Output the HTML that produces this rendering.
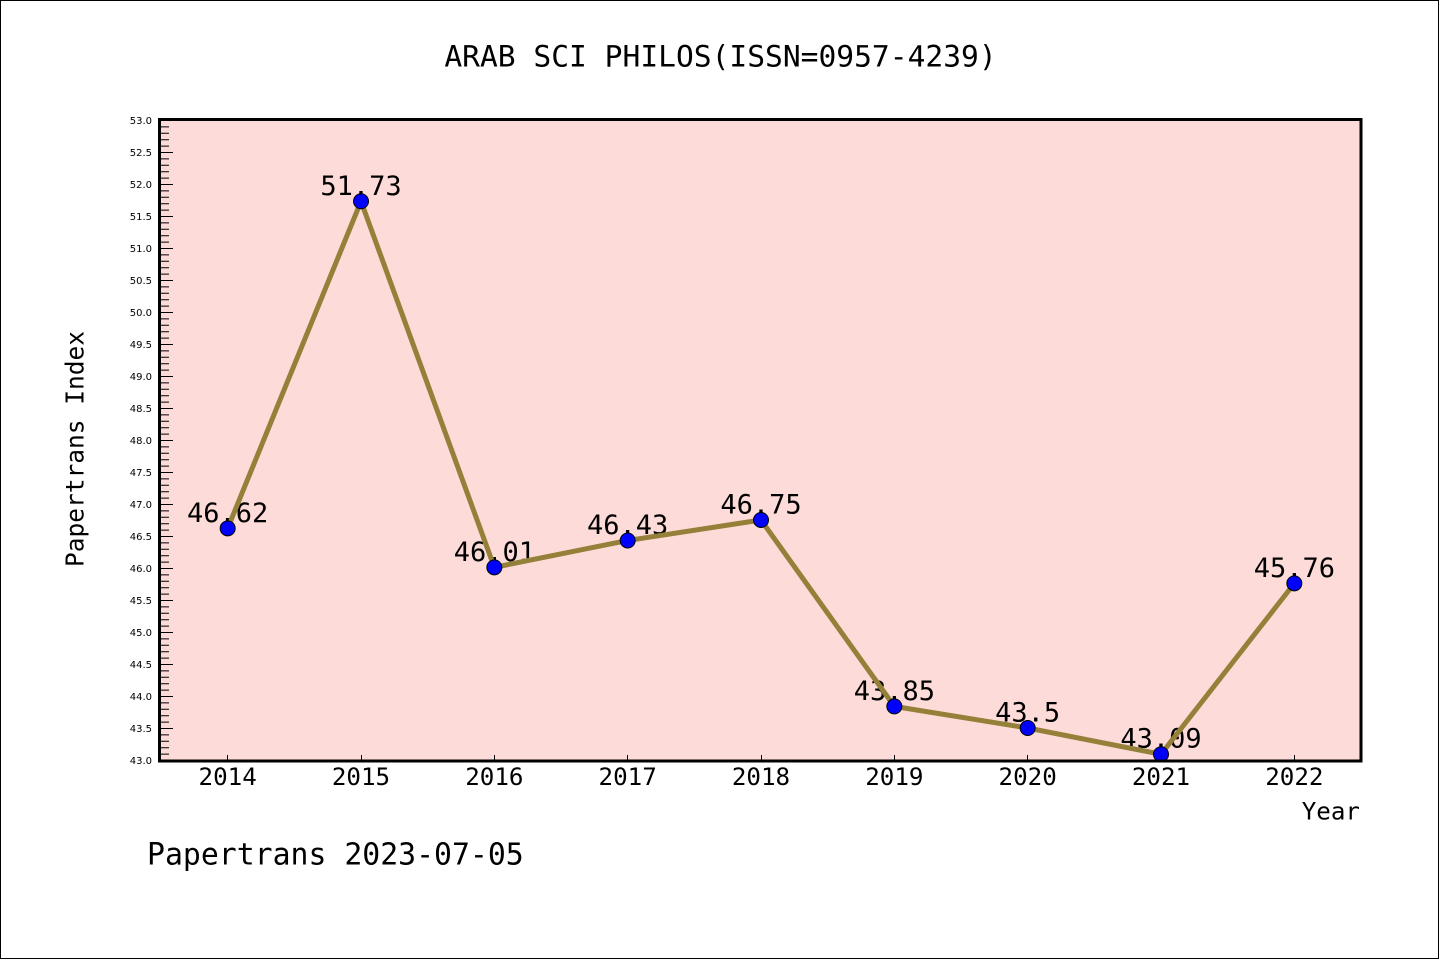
<!DOCTYPE html>
<html><head><meta charset="utf-8"><style>
html,body{margin:0;padding:0;background:#fff}
svg{display:block}
</style></head><body>
<svg width="1440" height="960" viewBox="0 0 1440 960" xmlns="http://www.w3.org/2000/svg">
<rect x="0.5" y="0.5" width="1438" height="958" fill="#fff" stroke="#000" stroke-width="1"/>
<rect x="159.5" y="119.5" width="1201.5" height="641.5" fill="#FDDBD8"/>
<g font-family="'DejaVu Sans Mono','Liberation Mono',monospace" fill="#000">
<text x="720.5" y="66.7" font-size="29.6" text-anchor="middle">ARAB SCI PHILOS(ISSN=0957-4239)</text>
<text x="147" y="864.3" font-size="29.8">Papertrans 2023-07-05</text>
<text x="1360" y="819.5" font-size="24.2" text-anchor="end">Year</text>
<text transform="translate(83.3,449) rotate(-90)" font-size="24.5" text-anchor="middle">Papertrans Index</text>
<g font-size="24.2" text-anchor="middle">
<text x="227.67" y="785">2014</text>
<text x="361" y="785">2015</text>
<text x="494.33" y="785">2016</text>
<text x="627.67" y="785">2017</text>
<text x="761" y="785">2018</text>
<text x="894.33" y="785">2019</text>
<text x="1027.67" y="785">2020</text>
<text x="1161" y="785">2021</text>
<text x="1294.33" y="785">2022</text>
</g>
</g>
<g font-family="'DejaVu Sans','Liberation Sans',sans-serif" font-size="10" text-anchor="end" fill="#000">
<text x="152" y="124">53.0</text>
<text x="152" y="156">52.5</text>
<text x="152" y="188">52.0</text>
<text x="152" y="220">51.5</text>
<text x="152" y="252">51.0</text>
<text x="152" y="284">50.5</text>
<text x="152" y="316">50.0</text>
<text x="152" y="348">49.5</text>
<text x="152" y="380">49.0</text>
<text x="152" y="412">48.5</text>
<text x="152" y="444">48.0</text>
<text x="152" y="476">47.5</text>
<text x="152" y="508">47.0</text>
<text x="152" y="540">46.5</text>
<text x="152" y="572">46.0</text>
<text x="152" y="604">45.5</text>
<text x="152" y="636">45.0</text>
<text x="152" y="668">44.5</text>
<text x="152" y="700">44.0</text>
<text x="152" y="732">43.5</text>
<text x="152" y="764">43.0</text>
</g>
<g font-family="'DejaVu Sans Mono','Liberation Mono',monospace" font-size="27" text-anchor="middle" fill="#000">
<text x="227.67" y="521.8">46.62</text>
<text x="361" y="194.8">51.73</text>
<text x="494.33" y="560.9">46.01</text>
<text x="627.67" y="534">46.43</text>
<text x="761" y="513.5">46.75</text>
<text x="894.33" y="699.9">43.85</text>
<text x="1027.67" y="721.5">43.5</text>
<text x="1161" y="747.7">43.09</text>
<text x="1294.33" y="576.9">45.76</text>
</g>
<polyline points="227.67,528.32 361,201.28 494.33,567.36 627.67,540.48 761,520 894.33,706.4 1027.67,728 1161,754.24 1294.33,583.36" fill="none" stroke="#95803A" stroke-width="5" stroke-linejoin="miter"/>
<g fill="#0000FF" stroke="#000" stroke-width="1">
<circle cx="227.67" cy="528.32" r="7.5"/>
<circle cx="361" cy="201.28" r="7.5"/>
<circle cx="494.33" cy="567.36" r="7.5"/>
<circle cx="627.67" cy="540.48" r="7.5"/>
<circle cx="761" cy="520" r="7.5"/>
<circle cx="894.33" cy="706.4" r="7.5"/>
<circle cx="1027.67" cy="728" r="7.5"/>
<circle cx="1161" cy="754.24" r="7.5"/>
<circle cx="1294.33" cy="583.36" r="7.5"/>
</g>
<g stroke="#000" stroke-width="1">
<path d="M161 120.5H173M161 126.9H169M161 133.3H169M161 139.7H169M161 146.1H169M161 152.5H173M161 158.9H169M161 165.3H169M161 171.7H169M161 178.1H169M161 184.5H173M161 190.9H169M161 197.3H169M161 203.7H169M161 210.1H169M161 216.5H173M161 222.9H169M161 229.3H169M161 235.7H169M161 242.1H169M161 248.5H173M161 254.9H169M161 261.3H169M161 267.7H169M161 274.1H169M161 280.5H173M161 286.9H169M161 293.3H169M161 299.7H169M161 306.1H169M161 312.5H173M161 318.9H169M161 325.3H169M161 331.7H169M161 338.1H169M161 344.5H173M161 350.9H169M161 357.3H169M161 363.7H169M161 370.1H169M161 376.5H173M161 382.9H169M161 389.3H169M161 395.7H169M161 402.1H169M161 408.5H173M161 414.9H169M161 421.3H169M161 427.7H169M161 434.1H169M161 440.5H173M161 446.9H169M161 453.3H169M161 459.7H169M161 466.1H169M161 472.5H173M161 478.9H169M161 485.3H169M161 491.7H169M161 498.1H169M161 504.5H173M161 510.9H169M161 517.3H169M161 523.7H169M161 530.1H169M161 536.5H173M161 542.9H169M161 549.3H169M161 555.7H169M161 562.1H169M161 568.5H173M161 574.9H169M161 581.3H169M161 587.7H169M161 594.1H169M161 600.5H173M161 606.9H169M161 613.3H169M161 619.7H169M161 626.1H169M161 632.5H173M161 638.9H169M161 645.3H169M161 651.7H169M161 658.1H169M161 664.5H173M161 670.9H169M161 677.3H169M161 683.7H169M161 690.1H169M161 696.5H173M161 702.9H169M161 709.3H169M161 715.7H169M161 722.1H169M161 728.5H173M161 734.9H169M161 741.3H169M161 747.7H169M161 754.1H169"/>
<path d="M227.5 755V760M361.5 755V760M494.5 755V760M627.5 755V760M761.5 755V760M894.5 755V760M1027.5 755V760M1161.5 755V760M1294.5 755V760"/>
</g>
<rect x="159.5" y="119.5" width="1201.5" height="641.5" fill="none" stroke="#000" stroke-width="3"/>
</svg>
</body></html>
